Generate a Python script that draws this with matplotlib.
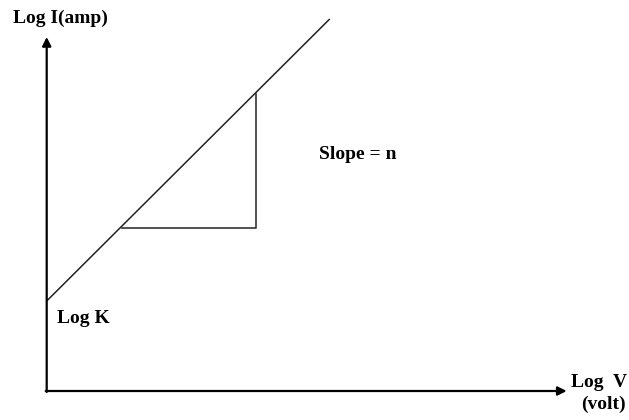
import matplotlib
matplotlib.use("Agg")
import matplotlib.pyplot as plt

# log I vs log V sketch, units are pixels measured from the origin
line_logv = [0, 283]
line_logi = [90, 372]

# slope triangle under the line
tri_logv = [75, 209, 209]
tri_logi = [163, 163, 297]

x_axis_end = 520
y_axis_end = 354

plt.rcParams['font.family'] = ['Liberation Serif', 'DejaVu Serif']

fig = plt.figure(figsize=(6.29, 4.20), dpi=100)
ax = fig.add_axes([0, 0, 1, 1])
ax.set_xlim(-46.7, 582.3)
ax.set_ylim(-29, 391)
ax.axis('off')

# axes with arrow heads
ax.annotate('', xy=(x_axis_end, 0), xytext=(-1, 0),
            arrowprops=dict(arrowstyle='-|>', color='black', lw=1.6,
                            mutation_scale=13, shrinkA=0, shrinkB=0))
ax.annotate('', xy=(0, y_axis_end), xytext=(0, -1),
            arrowprops=dict(arrowstyle='-|>', color='black', lw=1.6,
                            mutation_scale=13, shrinkA=0, shrinkB=0))

ax.plot(line_logv, line_logi, color='#222222', lw=1.1, solid_capstyle='butt')
ax.plot(tri_logv, tri_logi, color='#333333', lw=1.2)

tkw = dict(fontsize=14, fontweight='bold', color='black', va='baseline', ha='left')
ax.text(-34, 368, 'Log I(amp)', **tkw)
ax.text(272, 232, 'Slope = n', **tkw)
ax.text(10, 68, 'Log K', **tkw)
ax.text(524, 4, 'Log  V', **tkw)
ax.text(534, -18, '(volt)', **tkw)

fig.savefig('out.png', dpi=100)
